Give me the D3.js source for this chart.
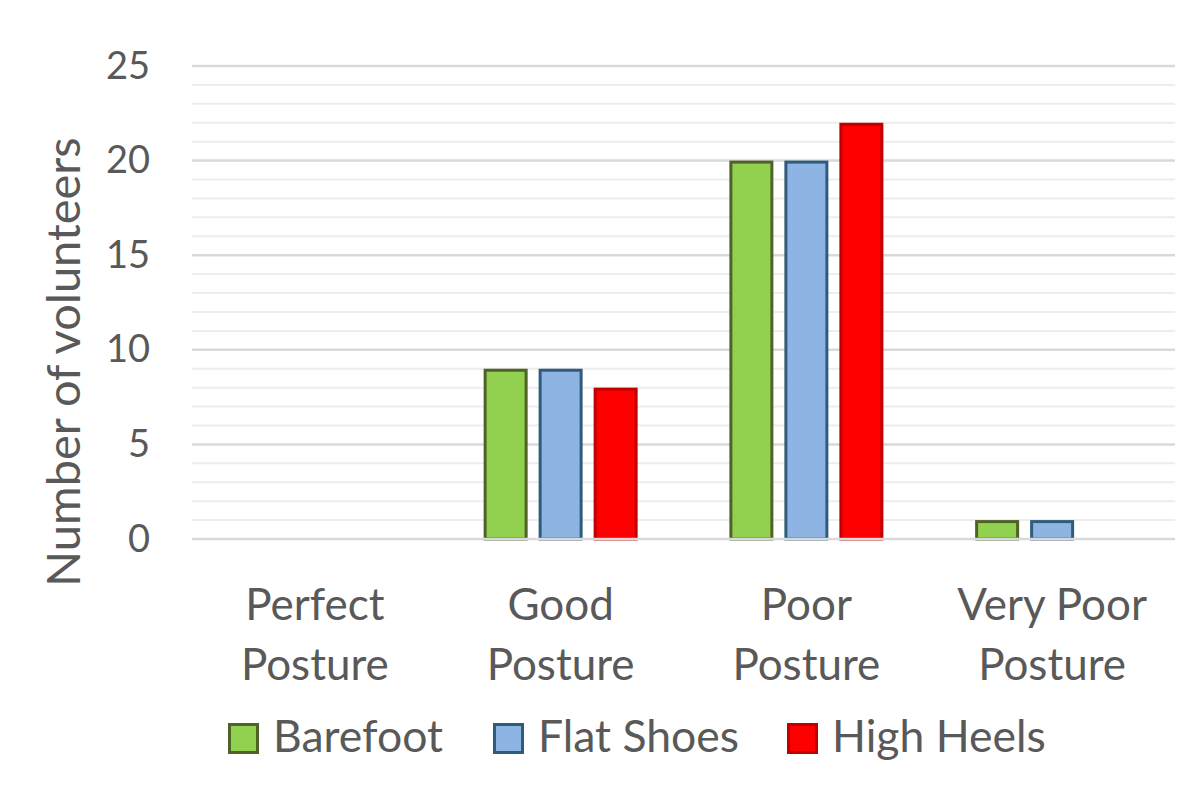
<!DOCTYPE html>
<html>
<head>
<meta charset="utf-8">
<script src="https://cdn.jsdelivr.net/npm/d3@7"></script>
<style>
  html, body { margin: 0; padding: 0; background: #fff; }
  svg { display: block; }
  text { font-family: Lato, "Open Sans", sans-serif; fill: #595959; }
</style>
</head>
<body>
<svg id="chart" width="1197" height="800"></svg>
<script>
const categories = [["Perfect", "Posture"], ["Good", "Posture"], ["Poor", "Posture"], ["Very Poor", "Posture"]];
const seriesNames = ["Barefoot", "Flat Shoes", "High Heels"];
const barefoot = [0, 9, 20, 1];
const flatShoes = [0, 9, 20, 1];
const highHeels = [0, 8, 22, 0];
const yTicks = [0, 5, 10, 15, 20, 25];
const fills = ["#92d050", "#8db4e2", "#ff0000"];
const strokes = ["#4f6228", "#2f5c7a", "#c00000"];

const seriesValues = [barefoot, flatShoes, highHeels];
const svg = d3.select("#chart");
const plotLeft = 192, plotRight = 1175, plotTop = 66, plotBottom = 539;

const x = d3.scaleBand().domain(d3.range(categories.length)).range([plotLeft, plotRight]).padding(0);
const y = d3.scaleLinear().domain([0, 25]).range([plotBottom, plotTop]);
const barW = 44, gap = 11;
const groupW = 3 * barW + 2 * gap;
const inner = d3.scaleBand().domain(d3.range(seriesNames.length))
  .range([0, groupW]).paddingInner(gap / (barW + gap)).paddingOuter(0);

// minor gridlines
svg.append("g").selectAll("line").data(d3.range(1, 26).filter(v => v % 5 !== 0)).join("line")
  .attr("x1", plotLeft).attr("x2", plotRight)
  .attr("y1", d => y(d)).attr("y2", d => y(d))
  .attr("stroke", "#ededed").attr("stroke-width", 2);

// major gridlines
svg.append("g").selectAll("line").data(yTicks.filter(v => v > 0)).join("line")
  .attr("x1", plotLeft).attr("x2", plotRight)
  .attr("y1", d => y(d)).attr("y2", d => y(d))
  .attr("stroke", "#d9d9d9").attr("stroke-width", 2.5);

// y axis labels
const yAxis = d3.axisLeft(y).tickValues(yTicks).tickSize(0).tickPadding(0);
const yg = svg.append("g").attr("transform", `translate(150,0)`).call(yAxis);
yg.select(".domain").remove();
yg.selectAll("text").attr("font-size", 38).style("font-family", "Lato, sans-serif").attr("fill", "#595959");

// bars
const groups = svg.append("g").selectAll("g").data(seriesValues).join("g");
groups.each(function(vals, si) {
  d3.select(this).selectAll("rect").data(vals.map((v, ci) => ({v, ci})).filter(d => d.v > 0)).join("rect")
    .attr("x", d => x(d.ci) + x.bandwidth() / 2 - groupW / 2 + inner(si) + 1.5)
    .attr("y", d => y(d.v) + 1.5)
    .attr("width", inner.bandwidth() - 3)
    .attr("height", d => y(0) - y(d.v) - 1.5)
    .attr("fill", fills[si]).attr("stroke", strokes[si]).attr("stroke-width", 3);
});

// baseline axis
svg.append("line").attr("x1", plotLeft).attr("x2", plotRight).attr("y1", y(0)).attr("y2", y(0))
  .attr("stroke", "#d9d9d9").attr("stroke-width", 2.5);

// category labels
const cl = svg.append("g").selectAll("text").data(categories).join("text")
  .attr("text-anchor", "middle").attr("font-size", 44)
  .attr("x", (d, i) => x(i) + x.bandwidth() / 2);
cl.selectAll("tspan").data(d => d).join("tspan")
  .attr("x", function() { return d3.select(this.parentNode).attr("x"); })
  .attr("y", (d, i) => 620 + i * 60)
  .text(d => d);

// y title
svg.append("text").attr("transform", "translate(80,362) rotate(-90)")
  .attr("text-anchor", "middle").attr("font-size", 47).text("Number of volunteers");

// legend
const legendX = [228, 493, 787];
const lg = svg.append("g").selectAll("g").data(seriesNames).join("g")
  .attr("transform", (d, i) => `translate(${legendX[i]},723)`);
lg.append("rect").attr("x", 1.5).attr("y", 1.5).attr("width", 28).attr("height", 28)
  .attr("fill", (d, i) => fills[i]).attr("stroke", (d, i) => strokes[i]).attr("stroke-width", 3);
lg.append("text").attr("x", 45).attr("y", 29).attr("font-size", 44.5).text(d => d);
</script>
</body>
</html>
